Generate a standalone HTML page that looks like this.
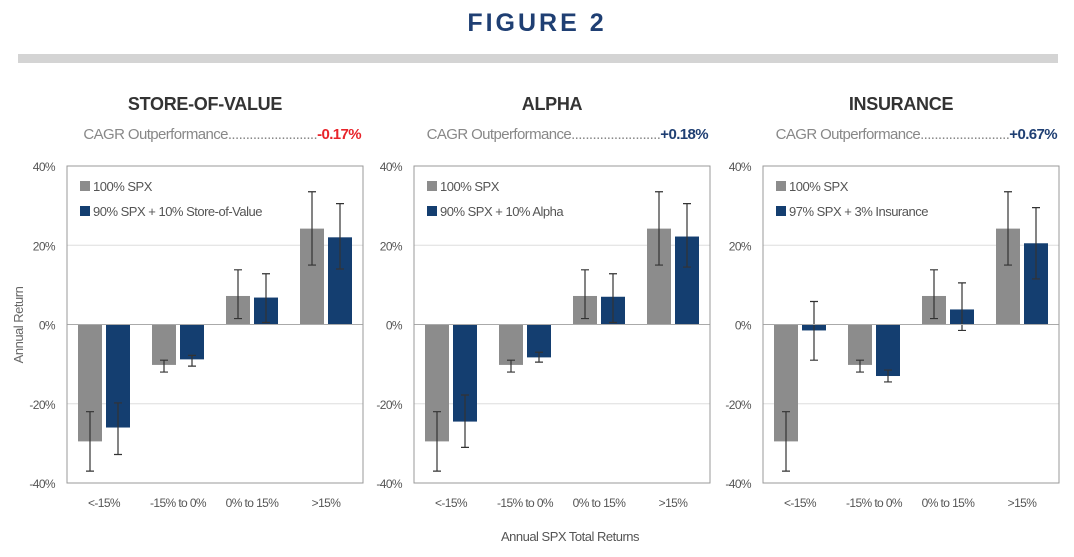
<!DOCTYPE html>
<html><head><meta charset="utf-8"><style>
body{margin:0;background:#fff;width:1074px;height:552px;overflow:hidden;font-family:"Liberation Sans",Arial,sans-serif}
</style></head><body>
<svg width="1074" height="552" xmlns="http://www.w3.org/2000/svg" id="svg" font-family="Liberation Sans, Arial, sans-serif">
<text x="537" y="31" text-anchor="middle" font-size="25" font-weight="bold" fill="#1f3f73" letter-spacing="3">FIGURE 2</text>
<rect x="18" y="54" width="1040" height="9" fill="#d4d4d4"/>
<text transform="translate(23,325) rotate(-90)" text-anchor="middle" font-size="13" fill="#666" letter-spacing="-0.5">Annual Return</text>
<text x="570" y="541" text-anchor="middle" font-size="13" fill="#555" letter-spacing="-0.5">Annual SPX Total Returns</text>
</svg>
<script>
const categories=["<-15%","-15% to 0%","0% to 15%",">15%"];
const titles=["STORE-OF-VALUE","ALPHA","INSURANCE"];
const cagr=["-0.17%","+0.18%","+0.67%"];
const cagrColors=["#e8232a","#1f3f73","#1f3f73"];
const legendB=["90% SPX + 10% Store-of-Value","90% SPX + 10% Alpha","97% SPX + 3% Insurance"];
const spx=[-29.5,-10.2,7.2,24.2];
const spxLo=[-37,-12,1.5,15];
const spxHi=[-22,-9,13.8,33.5];
const mixVals=[[-26,-8.8,6.8,22],[-24.5,-8.3,7,22.2],[-1.5,-13,3.8,20.5]];
const mixLo=[[-32.8,-10.5,0.5,14],[-31,-9.5,0.5,14.5],[-9,-14.5,-1.5,11.5]];
const mixHi=[[-19.8,-7.8,12.8,30.5],[-17.8,-7,12.8,30.5],[5.8,-11.5,10.5,29.5]];
const ticks=[40,20,0,-20,-40];
const tickLabels=["40%","20%","0%","-20%","-40%"];
const svgEl=document.getElementById('svg');
const NS="http://www.w3.org/2000/svg";
function mk(tag,attrs,parent){const e=document.createElementNS(NS,tag);for(const k in attrs)e.setAttribute(k,attrs[k]);(parent||svgEl).appendChild(e);return e;}
const lefts=[67,414,763],PW=296,PTOP=166,PBOT=483;
const yScale=v=>PTOP+(40-v)/80*(PBOT-PTOP);
lefts.forEach((L,p)=>{
  const g=mk('g',{});
  
  
  const t=mk('text',{x:L+PW/2-10,y:110,'text-anchor':'middle','font-size':18,'font-weight':'bold',fill:'#333','letter-spacing':'-0.3'},g);t.textContent=titles[p];
  
  const c=mk('text',{x:L+PW-2,y:139,'text-anchor':'end','font-size':15,fill:'#888','letter-spacing':'-0.6'},g);
  
  c.appendChild(document.createTextNode('CAGR Outperformance.........................'));
  const ts=mk('tspan',{'font-weight':'bold',fill:cagrColors[p]},c);ts.textContent=cagr[p];
  ticks.forEach((tv,i)=>{
    if(tv===20||tv===-20){const gl=mk('line',{x1:L,x2:L+PW,y1:yScale(tv),y2:yScale(tv),stroke:'#ddd','stroke-width':1},g);}
    const tl=mk('text',{x:L-12,y:yScale(tv)+5,'text-anchor':'end','font-size':12,fill:'#555','letter-spacing':'-0.6'},g);tl.textContent=tickLabels[i];
    
  });
  const cw=PW/4;
  categories.forEach((cat,i)=>{
    const cx=L+cw*i+cw/2;
    [[spx[i],spxLo[i],spxHi[i],'#8c8c8c',-14],[mixVals[p][i],mixLo[p][i],mixHi[p][i],'#143e70',14]].forEach((s,j)=>{
      const bx=cx+s[4];
      const r=mk('rect',{x:bx-12,y:Math.min(yScale(0),yScale(s[0])),width:24,height:Math.abs(yScale(s[0])-yScale(0)),fill:s[3]},g);
      
      const e=mk('path',{d:`M${bx},${yScale(s[1])}V${yScale(s[2])}M${bx-4},${yScale(s[1])}h8M${bx-4},${yScale(s[2])}h8`,stroke:'#333','stroke-width':1.2,fill:'none'},g);
      
    });
    const xl=mk('text',{x:cx,y:507,'text-anchor':'middle','font-size':12,fill:'#555','letter-spacing':'-0.6'},g);xl.textContent=cat;
    
  });
  const z=mk('line',{x1:L,x2:L+PW,y1:yScale(0),y2:yScale(0),stroke:'#aaa','stroke-width':1},g);
  
  const b=mk('rect',{x:L,y:PTOP,width:PW,height:PBOT-PTOP,fill:'none',stroke:'#999','stroke-width':1},g);
  
  [['#8c8c8c','100% SPX',191],['#143e70',legendB[p],216]].forEach((it,k)=>{
    const lg=mk('g',{},g);
    
    mk('rect',{x:L+13,y:it[2]-10,width:10,height:10,fill:it[0]},lg);
    const lt=mk('text',{x:L+26,y:it[2],'font-size':13,fill:'#555','letter-spacing':'-0.5'},lg);lt.textContent=it[1];
  });
});
</script>
</body></html>
